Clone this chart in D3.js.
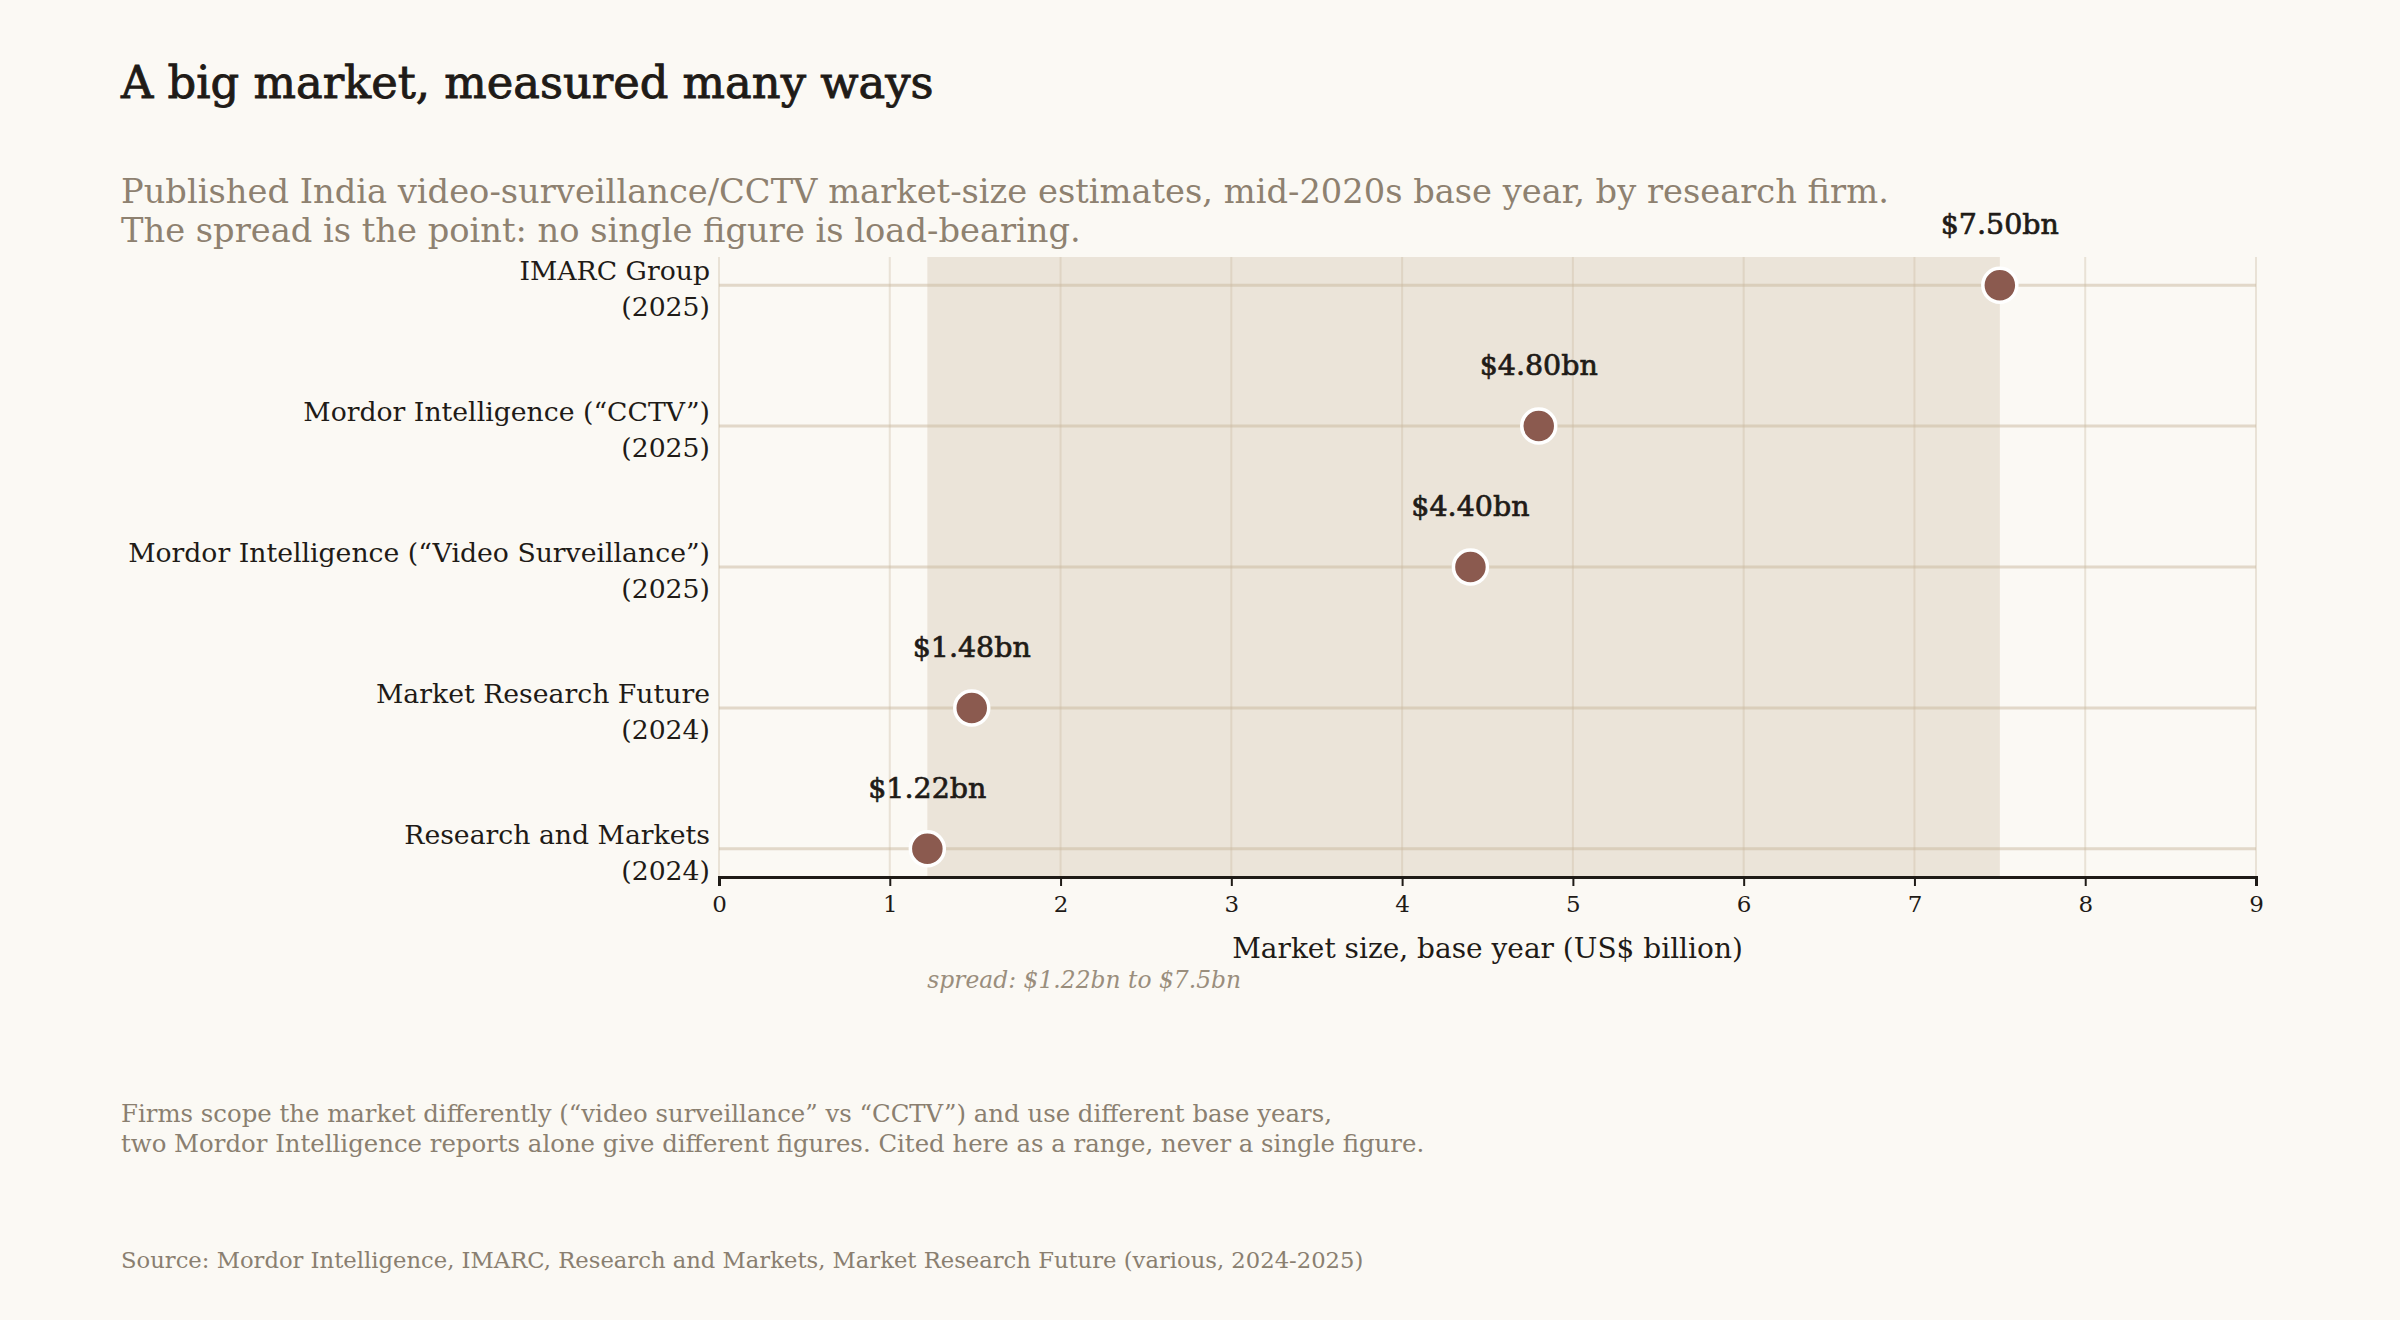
<!DOCTYPE html>
<html>
<head>
<meta charset="utf-8">
<script src="https://cdn.jsdelivr.net/npm/d3@7"></script>
<style>
  html, body { margin: 0; padding: 0; background: #fbf9f4; }
  svg { display: block; font-family: "DejaVu Serif", serif; }
</style>
</head>
<body>
<svg id="chart" width="2400" height="1320"></svg>
<script>
// firms, top to bottom
const firms = [
  "IMARC Group",
  "Mordor Intelligence (\u201cCCTV\u201d)",
  "Mordor Intelligence (\u201cVideo Surveillance\u201d)",
  "Market Research Future",
  "Research and Markets"
];
const baseYears = ["2025", "2025", "2025", "2024", "2024"];
const sizes = [7.5, 4.8, 4.4, 1.48, 1.22];   // US$ billion
const xTicks = [0, 1, 2, 3, 4, 5, 6, 7, 8, 9];

const W = 2400, H = 1320;
const margin = {top: 257, right: 144, bottom: 443, left: 719};

const svg = d3.select("#chart");

const x = d3.scaleLinear()
  .domain([0, 9])
  .range([margin.left, W - margin.right]);

const y = d3.scalePoint()
  .domain(firms)
  .range([margin.top, H - margin.bottom])
  .padding(0.2);

const lo = d3.min(sizes), hi = d3.max(sizes);

// spread band
svg.append("rect")
  .attr("x", x(lo))
  .attr("y", margin.top)
  .attr("width", x(hi) - x(lo))
  .attr("height", H - margin.bottom - margin.top)
  .attr("fill", "#ebe4d9");

// vertical grid
svg.append("g")
  .selectAll("line")
  .data(xTicks)
  .join("line")
  .attr("x1", d => x(d)).attr("x2", d => x(d))
  .attr("y1", margin.top).attr("y2", H - margin.bottom)
  .attr("stroke", "#c9b89e")
  .attr("stroke-opacity", 0.35)
  .attr("stroke-width", 2);

// row lines
svg.append("g")
  .selectAll("line")
  .data(firms)
  .join("line")
  .attr("x1", x(0)).attr("x2", x(9))
  .attr("y1", d => y(d)).attr("y2", d => y(d))
  .attr("stroke", "#c9b89e")
  .attr("stroke-opacity", 0.5)
  .attr("stroke-width", 3);

// x axis
const xAxis = svg.append("g")
  .attr("transform", `translate(0,${H - margin.bottom})`)
  .call(d3.axisBottom(x).tickValues(xTicks).tickFormat(d3.format("d")).tickSize(9).tickPadding(10));
xAxis.select(".domain").attr("stroke", "#1f1b17").attr("stroke-width", 3);
xAxis.selectAll(".tick line").attr("stroke", "#1f1b17").attr("stroke-width", 2);
xAxis.selectAll(".tick text")
  .attr("fill", "#1f1b17")
  .style("font-family", "DejaVu Serif")
  .style("font-size", "23px");

// y labels
const yl = svg.append("g")
  .selectAll("text")
  .data(firms)
  .join("text")
  .attr("text-anchor", "end")
  .attr("fill", "#1f1b17")
  .style("font-size", "26.7px");
yl.append("tspan")
  .attr("x", margin.left - 9)
  .attr("y", d => y(d) - 5)
  .text(d => d);
yl.append("tspan")
  .attr("x", margin.left - 9)
  .attr("y", d => y(d) + 31)
  .text((d, i) => `(${baseYears[i]})`);

// dots
svg.append("g")
  .selectAll("circle")
  .data(firms)
  .join("circle")
  .attr("cx", (d, i) => x(sizes[i]))
  .attr("cy", d => y(d))
  .attr("r", 17)
  .attr("fill", "#8b5a4f")
  .attr("stroke", "#ffffff")
  .attr("stroke-width", 3.5);

// value labels (regular face + thin stroke reads as semibold)
svg.append("g")
  .selectAll("text")
  .data(firms)
  .join("text")
  .attr("x", (d, i) => x(sizes[i]))
  .attr("y", d => y(d) - 51)
  .attr("text-anchor", "middle")
  .attr("fill", "#1f1b17")
  .attr("stroke", "#1f1b17")
  .attr("stroke-width", 0.7)
  .style("font-size", "28.5px")
  .text((d, i) => `$${sizes[i].toFixed(2)}bn`);

// axis title
svg.append("text")
  .attr("x", (x(0) + x(9)) / 2)
  .attr("y", 958)
  .attr("text-anchor", "middle")
  .attr("fill", "#1f1b17")
  .style("font-size", "28px")
  .text("Market size, base year (US$ billion)");

// spread note
svg.append("text")
  .attr("x", x(lo))
  .attr("y", 988)
  .attr("fill", "#9a8e7d")
  .style("font-size", "23.4px")
  .style("font-style", "italic")
  .text(`spread: $${lo}bn to $${hi}bn`);

// title + subtitle
svg.append("text")
  .attr("x", 121).attr("y", 98)
  .attr("fill", "#1f1b17")
  .attr("stroke", "#1f1b17")
  .attr("stroke-width", 0.9)
  .style("font-size", "44.8px")
  .text("A big market, measured many ways");

const sub = svg.append("text")
  .attr("fill", "#8e8170")
  .style("font-size", "33.7px");
sub.append("tspan").attr("x", 121).attr("y", 203)
  .text("Published India video-surveillance/CCTV market-size estimates, mid-2020s base year, by research firm.");
sub.append("tspan").attr("x", 121).attr("y", 242)
  .text("The spread is the point: no single figure is load-bearing.");

// footnote
const note = svg.append("text")
  .attr("fill", "#8a7f70")
  .style("font-size", "24.4px");
note.append("tspan").attr("x", 121).attr("y", 1122)
  .text("Firms scope the market differently (\u201cvideo surveillance\u201d vs \u201cCCTV\u201d) and use different base years,");
note.append("tspan").attr("x", 121).attr("y", 1152)
  .text("two Mordor Intelligence reports alone give different figures. Cited here as a range, never a single figure.");

svg.append("text")
  .attr("x", 121).attr("y", 1268)
  .attr("fill", "#8a7f70")
  .style("font-size", "22.7px")
  .text("Source: Mordor Intelligence, IMARC, Research and Markets, Market Research Future (various, 2024-2025)");
</script>
</body>
</html>
